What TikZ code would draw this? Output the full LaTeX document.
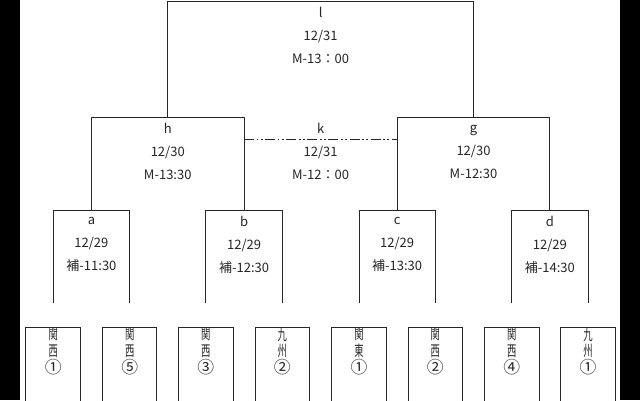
\documentclass[tikz,border=0pt]{standalone}
\usepackage{fontspec}
\setmainfont{Noto Sans CJK JP}
\newcommand\nk[1]{\scalebox{0.62}[1]{#1}}
\newcommand\nc[1]{\scalebox{1.12}{#1}}
\begin{document}
\begin{tikzpicture}[x=1pt,y=-1pt,
  line/.style={draw=black!85, line width=1pt},
  kline/.style={draw=black!85, line width=1pt, dash pattern=on 10pt off 2.5pt on 1.8pt off 2.5pt on 1.8pt off 2.5pt},
  team/.style={draw=black!85, line width=1pt, minimum width=54.5pt, minimum height=90pt, anchor=north, inner sep=0pt},
  teamtxt/.style={anchor=north, align=center, font=\fontsize{15}{16.8}\selectfont, inner sep=0pt, text=black!85},
  match/.style={align=center, font=\fontsize{13}{23}\selectfont, inner sep=0pt, text=black!85}]
\useasboundingbox (0,0) rectangle (640,400);
\clip (0,0) rectangle (640,400);
\fill[white] (0,0) rectangle (640,400);
\fill[black] (0,0) rectangle (20,400);
\fill[black] (620,0) rectangle (640,400);

% team boxes
\node[team] (t1) at (53.2,326.5) {};
\node[team] (t2) at (129.7,326.5) {};
\node[team] (t3) at (205.8,326.5) {};
\node[team] (t4) at (282.3,326.5) {};
\node[team] (t5) at (359,326.5) {};
\node[team] (t6) at (435.3,326.5) {};
\node[team] (t7) at (511.8,326.5) {};
\node[team] (t8) at (588,326.5) {};
\node[teamtxt] (n1) at ([yshift=-1pt]t1.north) {\nk{関}\\\nk{西}\\\nc{①}};
\node[teamtxt] (n2) at ([yshift=-1pt]t2.north) {\nk{関}\\\nk{西}\\\nc{⑤}};
\node[teamtxt] (n3) at ([yshift=-1pt]t3.north) {\nk{関}\\\nk{西}\\\nc{③}};
\node[teamtxt] (n4) at ([yshift=-1pt]t4.north) {\nk{九}\\\nk{州}\\\nc{②}};
\node[teamtxt] (n5) at ([yshift=-1pt]t5.north) {\nk{関}\\\nk{東}\\\nc{①}};
\node[teamtxt] (n6) at ([yshift=-1pt]t6.north) {\nk{関}\\\nk{西}\\\nc{②}};
\node[teamtxt] (n7) at ([yshift=-1pt]t7.north) {\nk{関}\\\nk{西}\\\nc{④}};
\node[teamtxt] (n8) at ([yshift=-1pt]t8.north) {\nk{九}\\\nk{州}\\\nc{①}};

% leg ends
\coordinate (a1) at (53.2,302.7);  \coordinate (a2) at (129.7,302.7);
\coordinate (b1) at (205.8,302.7); \coordinate (b2) at (282.3,302.7);
\coordinate (c1) at (359,302.7);   \coordinate (c2) at (435.3,302.7);
\coordinate (d1) at (511.8,302.7); \coordinate (d2) at (588,302.7);
% bracket tops
\coordinate (aT) at (91.45,210);  \coordinate (bT) at (244.05,210);
\coordinate (cT) at (397.15,210); \coordinate (dT) at (549.9,210);
\coordinate (hT) at (167.75,117); \coordinate (gT) at (473.5,117);
\coordinate (lT) at (320.6,1);

\draw[line] (a1) -- (a1 |- aT) -- (a2 |- aT) -- (a2);
\draw[line] (b1) -- (b1 |- bT) -- (b2 |- bT) -- (b2);
\draw[line] (c1) -- (c1 |- cT) -- (c2 |- cT) -- (c2);
\draw[line] (d1) -- (d1 |- dT) -- (d2 |- dT) -- (d2);
\draw[line] (aT) -- (aT |- hT) -- (bT |- hT) -- (bT);
\draw[line] (cT) -- (cT |- gT) -- (dT |- gT) -- (dT);
\draw[line] (hT) -- (hT |- lT) -- (gT |- lT) -- (gT);
\coordinate (kL) at (244.05,139.5);
\coordinate (kR) at (397.15,139.5);
\draw[kline] (kL) -- (kR);

% match labels
\node[match] (ml) at (320.6,35) {l\\12/31\\M-13：00};
\node[match] (mh) at (167.75,151.5) {h\\12/30\\M-13:30};
\node[match] (mk) at (320.6,151.5) {k\\12/31\\M-12：00};
\node[match] (mg) at (473.5,151.5) {g\\12/30\\M-12:30};
\node[match] (ma) at (91.45,244.5) {a\\12/29\\補-11:30};
\node[match] (mb) at (244.05,244.5) {b\\12/29\\補-12:30};
\node[match] (mc) at (397.15,244.5) {c\\12/29\\補-13:30};
\node[match] (md) at (549.9,244.5) {d\\12/29\\補-14:30};
\end{tikzpicture}
\end{document}
